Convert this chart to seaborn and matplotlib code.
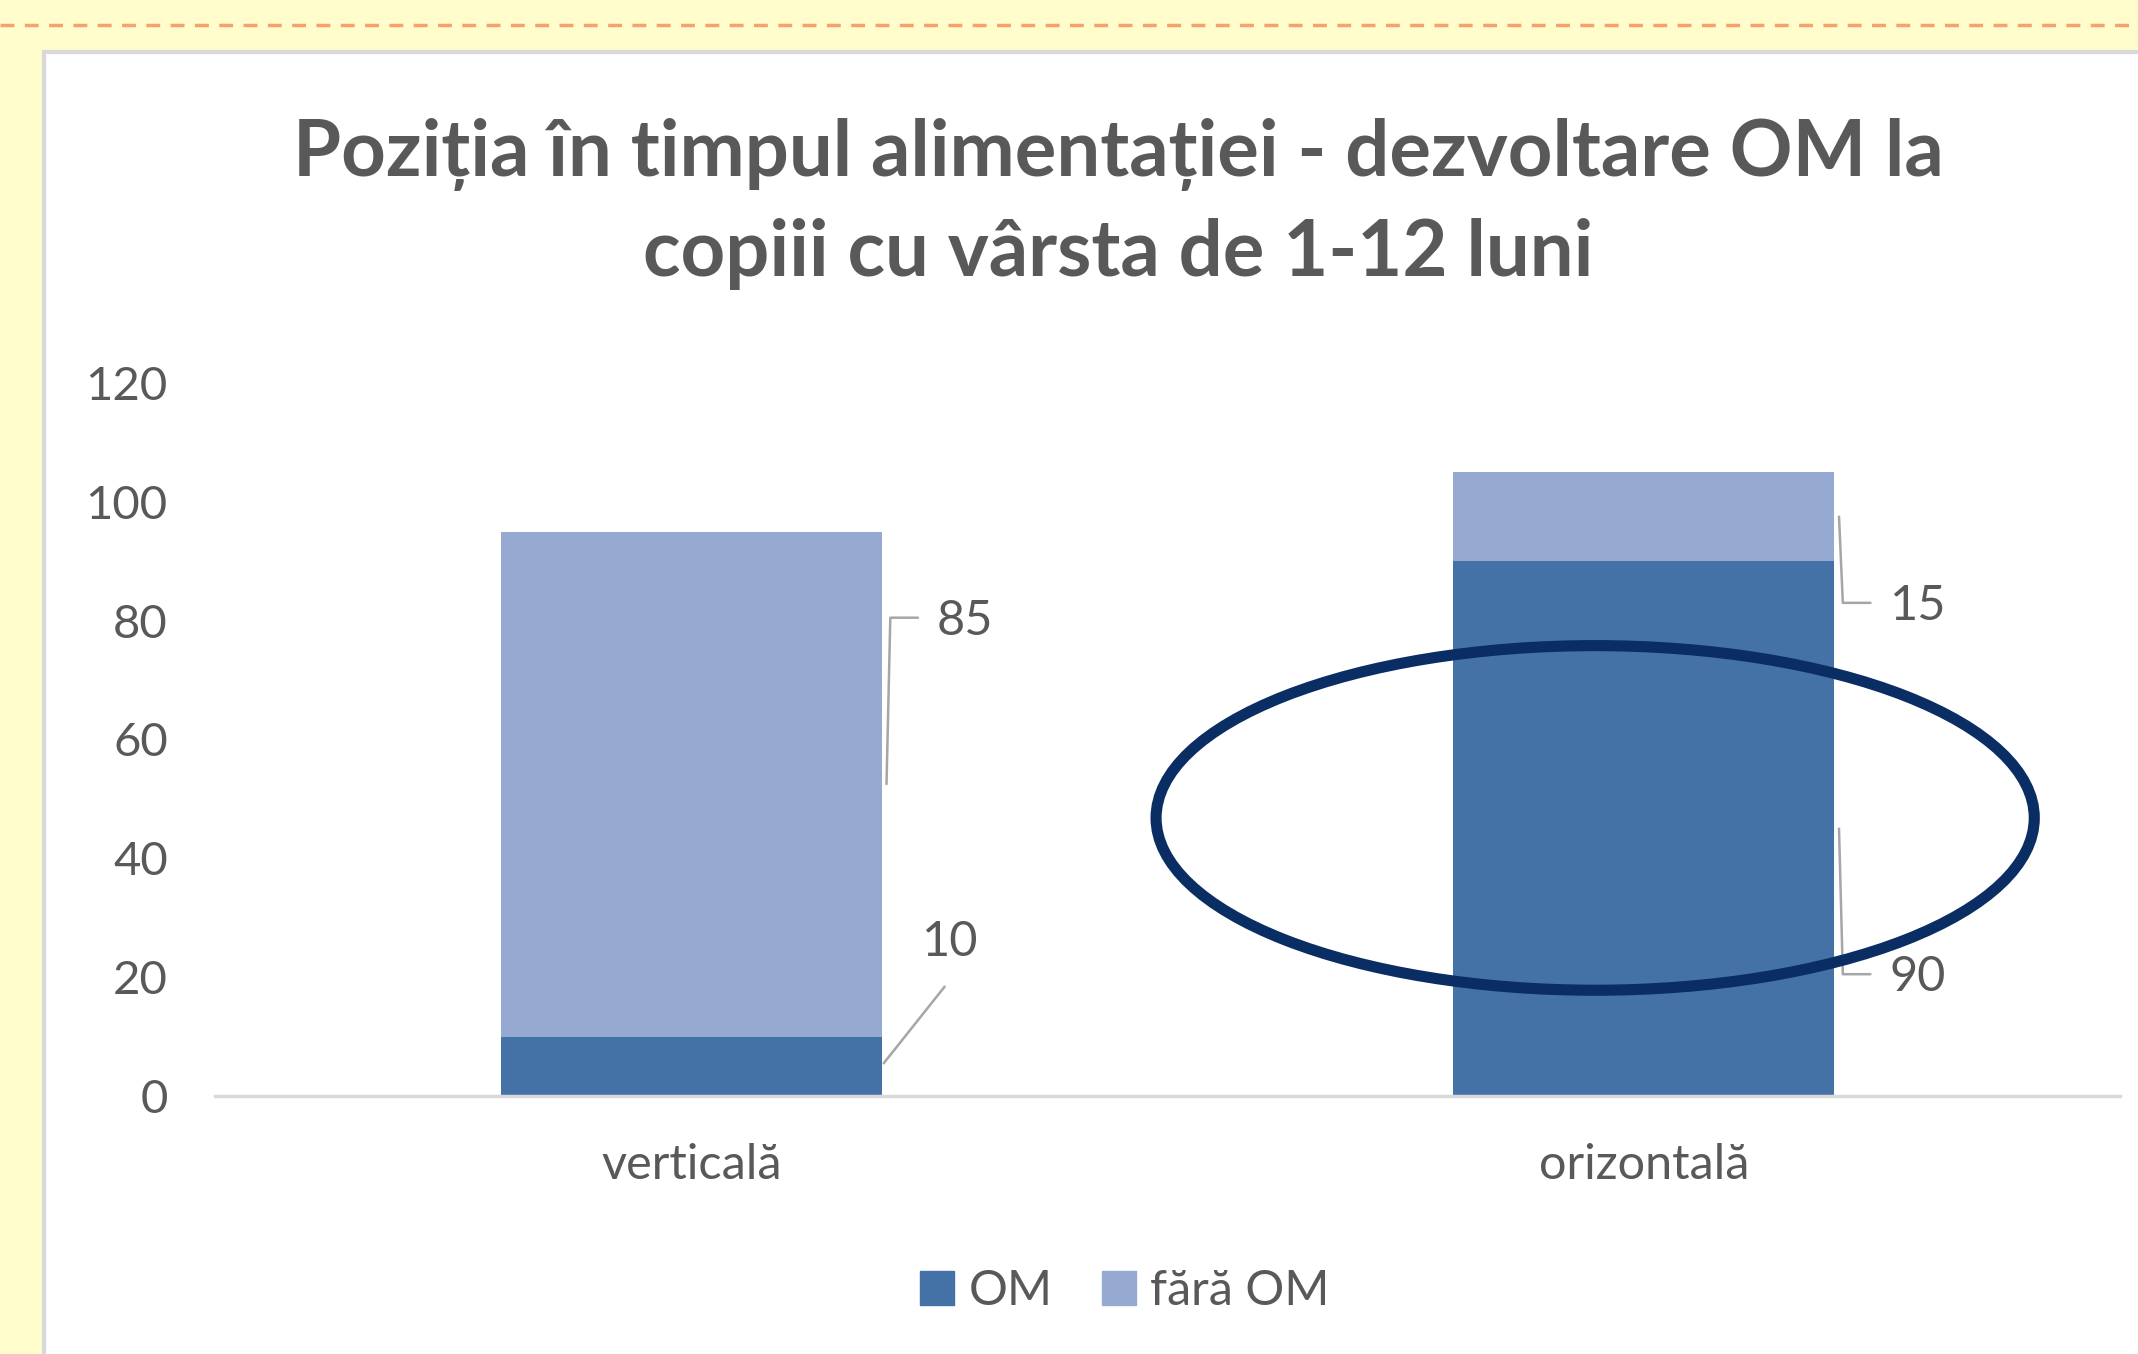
import matplotlib.pyplot as plt
import matplotlib.patches as mpatches
import numpy as np
import pandas as pd
import seaborn as sns

# data
categories = ["verticală", "orizontală"]
om_values = [10, 90]
fara_om_values = [85, 15]
series_names = ["OM", "fără OM"]
y_ticks = [0, 20, 40, 60, 80, 100, 120]

title = "Poziția în timpul alimentației - dezvoltare OM la\ncopiii cu vârsta de 1-12 luni"

dark_blue = "#4472A7"
light_blue = "#95A9D1"
text_gray = "#595959"
grid_gray = "#D9D9D9"

sns.set_theme(style="white")
plt.rcParams["font.family"] = ["Lato", "DejaVu Sans"]

df = pd.DataFrame({
    "categorie": categories,
    "OM": om_values,
    "fara": fara_om_values,
})
df["total"] = df["OM"] + df["fara"]

fig = plt.figure(figsize=(21.38, 13.54), dpi=100, facecolor="#FFFDCB")

# white chart panel with gray border
panel = mpatches.Rectangle((44 / 2138, -0.05), 1.2, 1 - 52 / 1354 + 0.05,
                           transform=fig.transFigure, facecolor="white",
                           edgecolor=grid_gray, linewidth=3, zorder=-5)
fig.patches.append(panel)

# dashed orange line at top
fig.add_artist(plt.Line2D([0, 1], [1 - 25 / 1354, 1 - 25 / 1354],
                          transform=fig.transFigure, color="#F7A070",
                          linewidth=2.5, linestyle=(0, (4, 3)), zorder=-4))

ax = fig.add_axes([215 / 2138, 1 - 1096 / 1354, (2120 - 215) / 2138, (1096 - 383) / 1354])
ax.set_facecolor("none")
ax.set_zorder(2)

bar_width = 0.4
sns.barplot(data=df, x="categorie", y="total", color=light_blue, width=bar_width,
            saturation=1, linewidth=0, ax=ax, zorder=2)
sns.barplot(data=df, x="categorie", y="OM", color=dark_blue, width=bar_width,
            saturation=1, linewidth=0, ax=ax, zorder=3)

ax.set_xlim(-0.5, 1.5)
ax.set_ylim(0, 120)
ax.set_yticks(y_ticks)
ax.set_xlabel("")
ax.set_ylabel("")
ax.tick_params(axis="both", length=0, labelcolor=text_gray)
ax.tick_params(axis="x", pad=34, labelsize=35)
ax.tick_params(axis="y", pad=34, labelsize=34)
for lab in ax.get_yticklabels():
    lab.set_horizontalalignment("right")
for s in ["top", "right", "left"]:
    ax.spines[s].set_visible(False)
ax.spines["bottom"].set_color(grid_gray)
ax.spines["bottom"].set_linewidth(2.5)
ax.spines["bottom"].set_zorder(4)

# data labels with leader lines (offsets from the segment midpoint)
leader_color = "#A6A6A6"
label_specs = [
    # (x index, segment bottom, segment value, dy of label, elbow leader?)
    (0, 0, om_values[0], 21, False),
    (0, om_values[0], fara_om_values[0], 27.5, True),
    (1, 0, om_values[1], -25, True),
    (1, om_values[1], fara_om_values[1], -15, True),
]
for i, bottom, val, dy, elbow in label_specs:
    x_edge = i + bar_width / 2
    y_mid = bottom + val / 2
    y_lab = y_mid + dy
    if elbow:
        ax.plot([x_edge + 0.005, x_edge + 0.009, x_edge + 0.038],
                [y_mid, y_lab + 0.5, y_lab + 0.5],
                color=leader_color, linewidth=1.8, zorder=5, clip_on=False)
        ax.text(x_edge + 0.058, y_lab, str(val), fontsize=35, color=text_gray,
                ha="left", va="center", zorder=6)
    else:
        ax.plot([x_edge + 0.002, x_edge + 0.066], [y_mid + 0.5, y_lab - 7.6],
                color=leader_color, linewidth=1.8, zorder=5, clip_on=False)
        ax.text(x_edge + 0.072, y_lab, str(val), fontsize=35, color=text_gray,
                ha="center", va="center", zorder=6)

# navy ellipse highlighting the OM group
ell = mpatches.Ellipse((0.949, 46.8), 0.922, 58, fill=False, edgecolor="#0A2D63",
                       linewidth=8, zorder=7, clip_on=False)
ax.add_patch(ell)

fig.text(1118 / 2138, 1 - 204 / 1354, title, ha="center", va="center",
         fontsize=56, fontweight="bold", color=text_gray, linespacing=1.45)

handles = [mpatches.Patch(color=dark_blue, label=series_names[0]),
           mpatches.Patch(color=light_blue, label=series_names[1])]
fig.legend(handles=handles, loc="center", bbox_to_anchor=(1125 / 2138, 1 - 1291 / 1354),
           ncol=2, frameon=False, fontsize=35, labelcolor=text_gray,
           handlelength=0.7, handleheight=0.7, handletextpad=0.3, columnspacing=1.0)

fig.savefig("out.png", dpi=100, facecolor=fig.get_facecolor())
